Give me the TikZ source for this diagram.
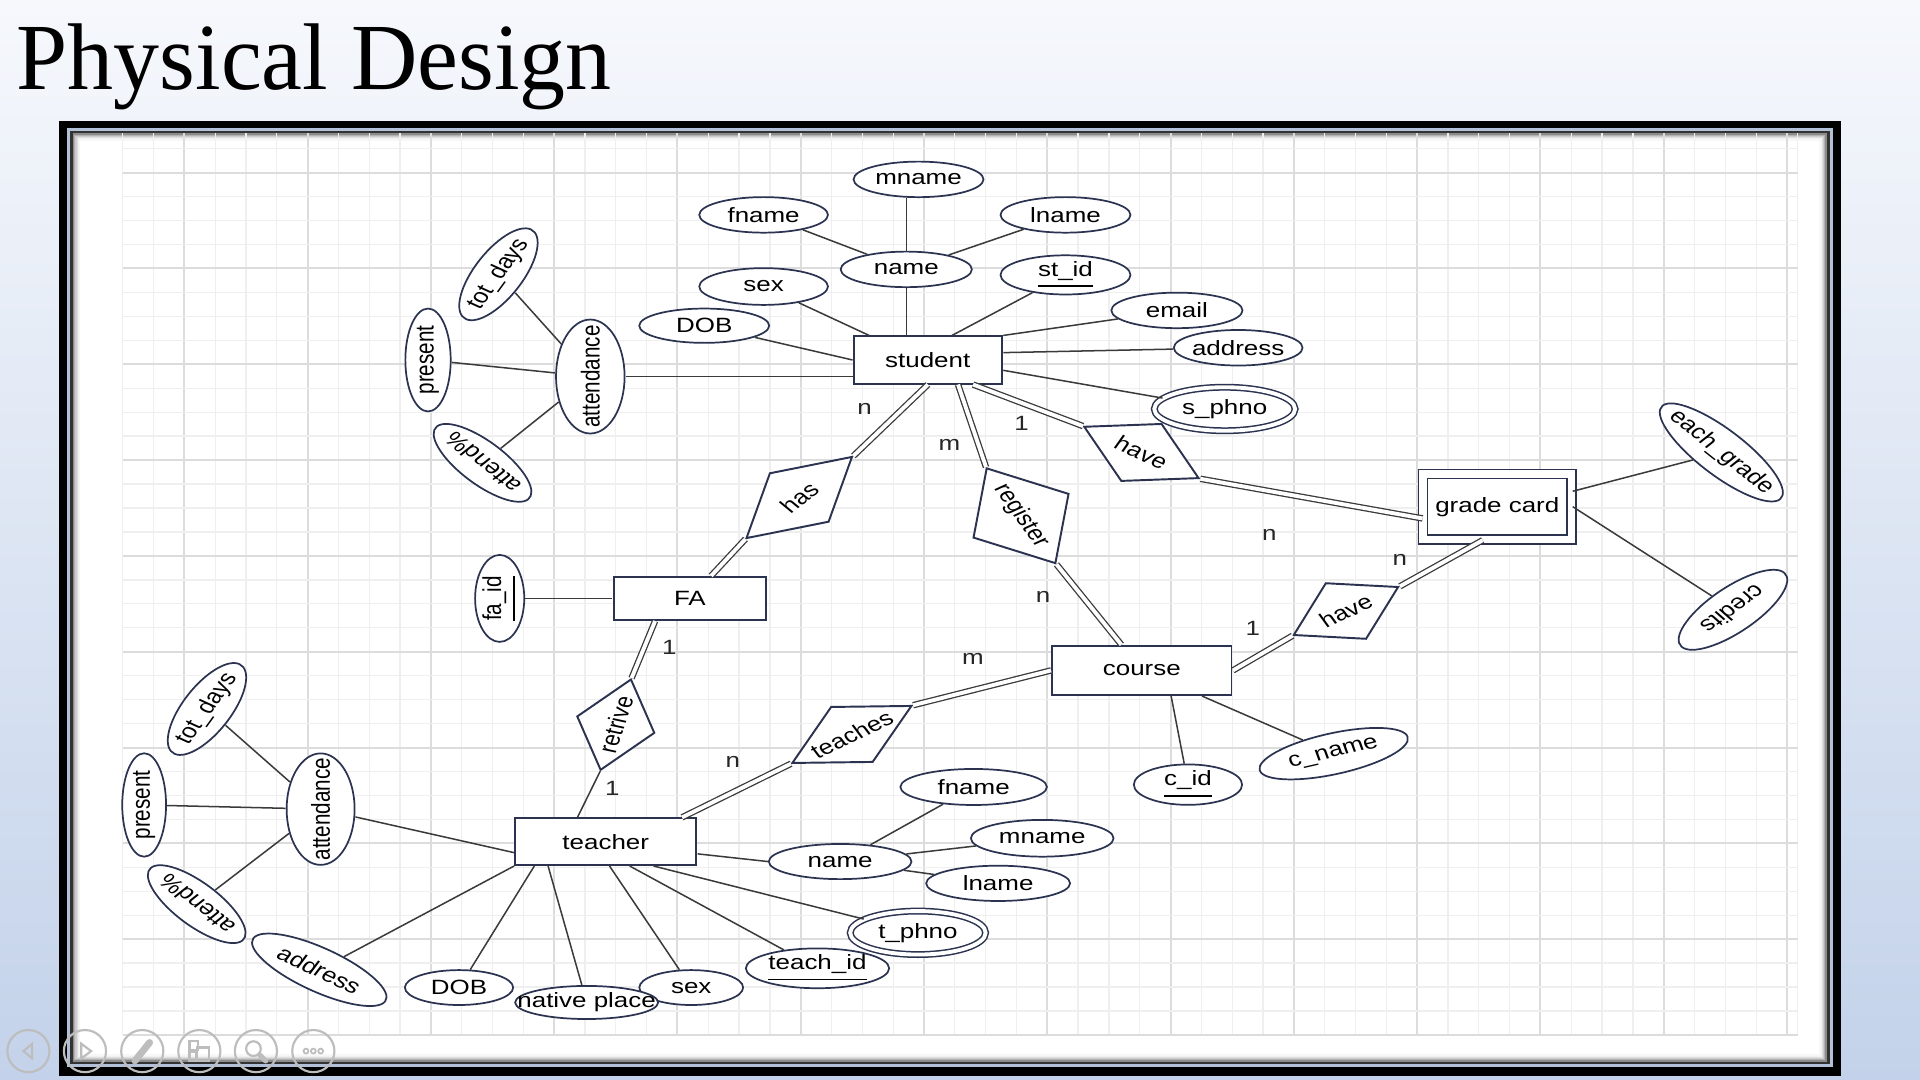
\documentclass[tikz,border=0pt]{standalone}
\usepackage{fontspec}
\setmainfont{Liberation Sans}
\newfontfamily\titlefont{Liberation Serif}
\usepackage{xcolor}
\usepackage{tikz}
\usetikzlibrary{calc,shapes.geometric}
\definecolor{SlideTop}{HTML}{F6F8FC}
\definecolor{SlideBottom}{HTML}{C3D2EA}
\definecolor{FrameBlue}{HTML}{B2C1D8}
\definecolor{GridMinor}{HTML}{EFEFEF}
\definecolor{GridMajor}{HTML}{DCDCDC}
\definecolor{ShapeEdge}{HTML}{2B3350}
\definecolor{LinkGray}{HTML}{3A3A3A}
\definecolor{NavGray}{HTML}{BDBDBD}

\newcommand{\erfont}{\fontsize{4.8pt}{5.6pt}\selectfont}
\newcommand{\erText}[1]{\makebox[0pt]{#1}}

\tikzset{
  erEntity/.style={rectangle,draw=ShapeEdge,fill=white,line width=0.45pt,inner sep=0pt},
  erWeak/.style={erEntity,double=white,double distance=1.75pt,line width=0.35pt},
  erAttr/.style={ellipse,draw=ShapeEdge,fill=white,line width=0.4pt,inner sep=0pt,
    minimum width=0.845cm,minimum height=0.29cm},
  erMulti/.style={erAttr,double=white,double distance=0.9pt,line width=0.35pt},
  erRel/.style={diamond,draw=ShapeEdge,fill=white,line width=0.45pt,inner sep=0pt},
  erLine/.style={draw=LinkGray,line width=0.35pt},
  erTotal/.style={draw=LinkGray,line width=0.3pt,double=white,double distance=0.9pt},
  erCard/.style={inner sep=0pt,text=black!85},
  navbtn/.style={circle,draw=NavGray,line width=0.5pt,minimum size=0.344cm,inner sep=0pt}
}

\begin{document}
\begin{tikzpicture}[x=0.01cm,y=-0.01cm]
  \useasboundingbox (0,0) rectangle (1568,882);
  \shade[top color=SlideTop,bottom color=SlideBottom] (0,0) rectangle (1568,882);
  \node[anchor=base west,inner sep=0pt,font=\titlefont\fontsize{22pt}{26pt}\selectfont] (title) at (13,73.5) {\scalebox{0.97}[1]{Physical Design}};

  % slide frame
  \fill[black] (48.2,98.6) rectangle (1503.5,878.7);
  \fill[FrameBlue] (55,104.8) rectangle (1496.7,871.3);
  \fill[black!80] (57.2,107) rectangle (1494.5,869);
  \fill[white] (59.5,108.9) rectangle (1491.8,867);
  \foreach \i/\o in {0.5/0.45,1.5/0.3,2.5/0.2,3.5/0.12,4.5/0.06,5.5/0.03}
    \draw[black,opacity=\o,line width=0.01cm] (59.5+\i,108.9+\i) rectangle (1491.8-\i,867-\i);

  % grid
  \foreach \k in {0,...,54}{
    \pgfmathsetmacro{\gx}{100.2+25.17*\k}
    \pgfmathtruncatemacro{\gm}{mod(\k,4)}
    \ifnum\gm=2
      \draw[GridMajor,line width=0.45pt] (\gx,108.9) -- (\gx,845.25);
    \else
      \draw[GridMinor,line width=0.3pt] (\gx,108.9) -- (\gx,845.25);
    \fi
  }
  \draw[GridMinor,line width=0.3pt] (1468,108.9) -- (1468,845.25);
  \foreach \k in {0,...,37}{
    \pgfmathsetmacro{\gy}{845.25-19.5625*\k}
    \pgfmathtruncatemacro{\gm}{mod(\k,4)}
    \ifnum\gm=0
      \draw[GridMajor,line width=0.45pt] (100.2,\gy) -- (1468,\gy);
    \else
      \draw[GridMinor,line width=0.3pt] (100.2,\gy) -- (1468,\gy);
    \fi
  }

  \begin{scope}[x=0.0079681cm,xscale=1.255,transform shape,every node/.append style={font=\erfont}]
    % student
    \node[erEntity,minimum width=0.964cm,minimum height=0.385cm] (student) at (757.5,294) {student};
    \node[erAttr,minimum width=0.853cm] (sname) at (740,220) {\erText{name}};
    \node[erAttr] (smname) at (750,146.5) {\erText{mname}};
    \node[erAttr,minimum width=0.837cm] (sfname) at (623.5,175.5) {\erText{fname}};
    \node[erAttr] (slname) at (870,175.5) {\erText{lname}};
    \node[erAttr,minimum width=0.837cm,minimum height=0.3cm] (ssex) at (623.5,234) {\erText{sex}};
    \node[erAttr,minimum height=0.28cm] (sdob) at (575,266) {\erText{DOB}};
    \node[erAttr] (sid) at (870,224.5) {\erText{\underline{st\_id}}};
    \node[erAttr,minimum width=0.853cm] (semail) at (961,253.5) {\erText{email}};
    \node[erAttr,minimum width=0.837cm] (saddr) at (1011,284) {\erText{address}};
    \node[erMulti,minimum width=0.916cm,minimum height=0.355cm] (sphno) at (1000,334) {\erText{s\_phno}};
    \node[erAttr,rotate=90,minimum width=0.93cm,minimum height=0.446cm] (satt) at (482,307.5) {\erText{attendance}};
    \node[erAttr,rotate=90,minimum width=0.84cm,minimum height=0.295cm] (spres) at (349.5,294) {\erText{present}};
    \node[erAttr,rotate=60,minimum width=0.845cm,minimum height=0.33cm] (stot) at (407,224) {\erText{tot\_days}};
    \node[erAttr,rotate=135,minimum width=0.84cm,minimum height=0.32cm] (sperc) at (394,378) {\erText{attend\%}};

    % faculty advisor
    \node[erEntity,minimum width=0.993cm,minimum height=0.353cm] (FA) at (563.3,488.7) {FA};
    \node[erAttr,rotate=90,minimum width=0.71cm,minimum height=0.29cm] (faid) at (408,488.7) {\erText{\underline{fa\_id}}};

    % course and grade card
    \node[erEntity,minimum width=1.167cm,minimum height=0.403cm] (course) at (932.3,547.5) {course};
    \node[erAttr,minimum width=0.704cm,minimum height=0.33cm] (cid) at (970,640.8) {\erText{\underline{c\_id}}};
    \node[erAttr,rotate=16,minimum width=1cm,minimum height=0.33cm] (cname) at (1089,615.5) {\erText{c\_name}};
    \node[erWeak,minimum width=0.964cm,minimum height=0.535cm] (gc) at (1222.6,413.8) {grade card};
    \node[erAttr,rotate=-45,minimum width=1.08cm,minimum height=0.34cm] (eachg) at (1405.5,369.5) {\erText{each\_grade}};
    \node[erAttr,rotate=222,minimum width=0.9cm,minimum height=0.34cm] (credits) at (1415,498) {\erText{credits}};

    % teacher
    \node[erEntity,minimum width=1.177cm,minimum height=0.381cm] (teacher) at (494.6,687.4) {teacher};
    \node[erAttr,minimum width=0.928cm,minimum height=0.287cm] (tname) at (686,703.6) {\erText{name}};
    \node[erAttr,minimum width=0.953cm,minimum height=0.294cm] (tfname) at (795,642.7) {\erText{fname}};
    \node[erAttr,minimum width=0.928cm,minimum height=0.3cm] (tmname) at (851,684.6) {\erText{mname}};
    \node[erAttr,minimum width=0.936cm,minimum height=0.288cm] (tlname) at (815,721.4) {\erText{lname}};
    \node[erMulti,minimum width=0.881cm,minimum height=0.355cm] (tphno) at (749.5,761.8) {\erText{t\_phno}};
    \node[erAttr,minimum width=0.932cm,minimum height=0.325cm] (tid) at (667.5,790.8) {\erText{\underline{teach\_id}}};
    \node[erAttr,minimum width=0.675cm,minimum height=0.285cm] (tsex) at (564.4,806.5) {\erText{sex}};
    \node[erAttr,minimum width=0.93cm,minimum height=0.27cm] (tnative) at (479,818.7) {\erText{native place}};
    \node[erAttr,minimum width=0.704cm,minimum height=0.285cm] (tdob) at (374.8,806.5) {\erText{DOB}};
    \node[erAttr,rotate=-31,minimum width=1cm,minimum height=0.34cm] (taddr) at (260.7,792) {\erText{address}};
    \node[erAttr,rotate=90,minimum width=0.91cm,minimum height=0.442cm] (tatt) at (261.8,660.8) {\erText{attendance}};
    \node[erAttr,rotate=90,minimum width=0.844cm,minimum height=0.285cm] (tpres) at (117.7,657.4) {\erText{present}};
    \node[erAttr,rotate=60,minimum width=0.845cm,minimum height=0.33cm] (ttot) at (169,579) {\erText{tot\_days}};
    \node[erAttr,rotate=135,minimum width=0.84cm,minimum height=0.32cm] (tperc) at (160.6,738.4) {\erText{attend\%}};

    % relationships
    \node[erRel,rotate=44,minimum width=0.96cm,minimum height=0.556cm] (has) at (652.6,406.3) {\erText{has}};
    \node[erRel,rotate=-60,minimum width=0.9cm,minimum height=0.72cm] (register) at (833.7,421.2) {\erText{register}};
    \node[erRel,rotate=-29.4,minimum width=0.86cm,minimum height=0.54cm] (haveg) at (932,369.5) {\erText{have}};
    \node[erRel,rotate=30,minimum width=0.79cm,minimum height=0.53cm] (havec) at (1099,499) {\erText{have}};
    \node[erRel,rotate=31,minimum width=0.91cm,minimum height=0.53cm] (teaches) at (695.6,599.8) {\erText{teaches}};
    \node[erRel,rotate=75,minimum width=0.77cm,minimum height=0.525cm] (retrive) at (502.8,591.8) {\erText{retrive}};

    % attribute links
    \draw[erLine] (sname) -- (sfname);
    \draw[erLine] (sname) -- (slname);
    \draw[erLine] (sname.north) -- (sname.north |- smname.south);
    \draw[erLine] (sname.south) -- (sname.south |- student.north);
    \draw[erLine] (ssex) -- ($(student.north west)!0.11!(student.north east)$);
    \draw[erLine] (sdob) -- (student.west);
    \draw[erLine] (sid) -- ($(student.north west)!0.66!(student.north east)$);
    \draw[erLine] (semail) -- (student.north east);
    \draw[erLine] (saddr) -- ($(student.north east)!0.35!(student.south east)$);
    \draw[erLine] (sphno) -- ($(student.north east)!0.71!(student.south east)$);
    \draw[erLine] (satt) -- (satt -| student.west);
    \draw[erLine] (satt) -- (stot);
    \draw[erLine] (satt) -- (spres);
    \draw[erLine] (satt) -- (sperc);
    \draw[erLine] (faid) -- (FA);
    \draw[erLine] ($(course.south west)!0.66!(course.south east)$) -- (cid);
    \draw[erLine] ($(course.south west)!0.83!(course.south east)$) -- (cname);
    \draw[erLine] ($(gc.north east)!0.27!(gc.south east)$) -- (eachg);
    \draw[erLine] (gc.east) -- (credits);
    \draw[erLine] (tatt) -- ($(teacher.west)!0.45!(teacher.south west)$);
    \draw[erLine] (tatt) -- (ttot);
    \draw[erLine] (tatt) -- (tpres);
    \draw[erLine] (tatt) -- (tperc);
    \draw[erLine] (taddr) -- (teacher.south west);
    \draw[erLine] (tdob) -- ($(teacher.south west)!0.11!(teacher.south east)$);
    \draw[erLine] (tnative) -- ($(teacher.south west)!0.185!(teacher.south east)$);
    \draw[erLine] (tsex) -- ($(teacher.south west)!0.52!(teacher.south east)$);
    \draw[erLine] (tid) -- ($(teacher.south west)!0.63!(teacher.south east)$);
    \draw[erLine] (tphno) -- ($(teacher.south west)!0.76!(teacher.south east)$);
    \draw[erLine] ($(teacher.east)!0.5!(teacher.south east)$) -- (tname.west);
    \draw[erLine] (tname) -- (tfname);
    \draw[erLine] (tname) -- (tmname);
    \draw[erLine] (tname) -- (tlname);

    % relationship links
    \draw[erTotal] (student.south) -- (has.east);
    \draw[erTotal] (has.west) -- (FA);
    \draw[erTotal] ($(student.south)!0.4!(student.south east)$) -- (register.west);
    \draw[erTotal] (register.east) -- (course);
    \draw[erTotal] ($(student.south)!0.6!(student.south east)$) -- (haveg.west);
    \draw[erTotal] (haveg.east) -- ($(gc.west)!0.35!(gc.south west)$);
    \draw[erTotal] (course.east) -- (havec.west);
    \draw[erTotal] (havec.east) -- ($(gc.south)!0.2!(gc.south west)$);
    \draw[erTotal] (course.west) -- (teaches.east);
    \draw[erTotal] (teaches.west) -- ($(teacher.north)!0.83!(teacher.north east)$);
    \draw[erTotal] ($(FA.south)!0.45!(FA.south west)$) -- (retrive.east);
    \draw[erLine] (retrive.west) -- ($(teacher.north)!0.31!(teacher.north west)$);

    % cardinalities
    \node[erCard] (cHasS) at (706,334.3) {n};
    \node[erCard] (cRegS) at (775.2,363.4) {m};
    \node[erCard] (cHaveS) at (834.2,345.7) {1};
    \node[erCard] (cHaveG) at (1036.4,437) {n};
    \node[erCard] (cHaveCG) at (1143,457.4) {n};
    \node[erCard] (cHaveC) at (1023,513) {1};
    \node[erCard] (cRegC) at (851.8,487.3) {n};
    \node[erCard] (cTeachC) at (794.5,538.4) {m};
    \node[erCard] (cTeachT) at (598.4,622) {n};
    \node[erCard] (cRetFA) at (546.6,528.6) {1};
    \node[erCard] (cRetT) at (499.9,643.8) {1};
  \end{scope}

  % slide show buttons
  \foreach \bx/\bn in {23.2/navA,69.4/navB,116.2/navC,162.8/navD,209/navE,255.9/navF}
    \node[navbtn] (\bn) at (\bx,858.4) {};
  \draw[NavGray,line width=0.5pt] ($(navA)+(-4,0)$) -- ($(navA)+(3,-6)$) -- ($(navA)+(3,6)$) -- cycle;
  \draw[NavGray,line width=0.5pt] ($(navB)+(5,0)$) -- ($(navB)+(-3,-6)$) -- ($(navB)+(-3,6)$) -- cycle;
  \draw[NavGray,line width=1.6pt,line cap=round] ($(navC)+(-6,8)$) -- ($(navC)+(6,-7)$);
  \draw[NavGray,line width=0.5pt] ($(navD)+(-8,-8)$) rectangle ($(navD)+(-1,-1)$);
  \draw[NavGray,line width=0.5pt] ($(navD)+(-8,1)$) rectangle ($(navD)+(-3,8)$);
  \draw[NavGray,line width=0.5pt] ($(navD)+(-2,-3)$) rectangle ($(navD)+(8,8)$);
  \draw[NavGray,line width=0.5pt] ($(navE)+(-2,-2)$) circle (0.06cm);
  \draw[NavGray,line width=1.2pt,line cap=round] ($(navE)+(3,3)$) -- ($(navE)+(8,8)$);
  \foreach \dx in {-6,0,6}
    \draw[NavGray,line width=0.4pt] ($(navF)+(\dx,0)$) circle (0.02cm);
\end{tikzpicture}
\end{document}
